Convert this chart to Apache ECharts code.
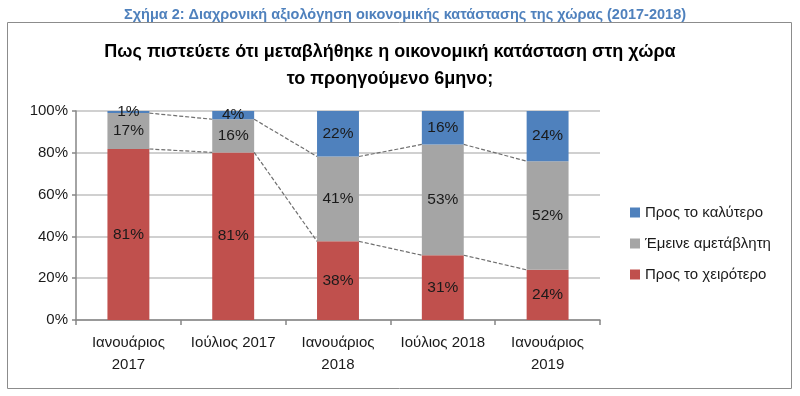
<!DOCTYPE html>
<html>
<head>
<meta charset="utf-8">
<script src="https://cdn.jsdelivr.net/npm/echarts@6/dist/echarts.min.js"></script>
<style>
  html, body { margin: 0; padding: 0; background: #fff; }
  #chart { width: 800px; height: 396px; }
</style>
</head>
<body>
<div id="chart"></div>
<script>
var categories = ['Ιανουάριος\n2017', 'Ιούλιος 2017', 'Ιανουάριος\n2018', 'Ιούλιος 2018', 'Ιανουάριος\n2019'];
var worse = [81, 81, 38, 31, 24];
var same = [17, 16, 41, 53, 52];
var better = [1, 4, 22, 16, 24];
var yTicks = ['0%', '20%', '40%', '60%', '80%', '100%'];

var FONT = "'Liberation Sans', Arial, sans-serif";
var BAR_RATIO = 0.4;

// 100% stacked: each column is shown as share of its own total
var totals = worse.map(function (v, i) { return v + same[i] + better[i]; });
function share(arr) {
    return arr.map(function (v, i) { return v / totals[i] * 100; });
}
var worseShare = share(worse);
var sameShare = share(same);
var betterShare = share(better);

// series lines between the bars, at the top of the red and grey parts
var connectors = [];
for (var i = 0; i < categories.length - 1; i++) {
    connectors.push([i, worseShare[i], worseShare[i + 1]]);
    connectors.push([i, worseShare[i] + sameShare[i], worseShare[i + 1] + sameShare[i + 1]]);
}

function barLabel(raw) {
    return {
        show: true,
        position: 'inside',
        fontFamily: FONT,
        fontSize: 15.5,
        color: '#1a1a1a',
        formatter: function (p) { return raw[p.dataIndex] + '%'; }
    };
}

var chart = echarts.init(document.getElementById('chart'));
chart.setOption({
    animation: false,
    textStyle: {fontFamily: FONT},
    title: [
        {
            text: 'Σχήμα 2: Διαχρονική αξιολόγηση οικονομικής κατάστασης της χώρας (2017-2018)',
            left: 400,
            textAlign: 'center',
            top: 2,
            textStyle: {fontFamily: FONT, fontSize: 14.5, fontWeight: 'bold', color: '#4f81bd'}
        },
        {
            text: 'Πως πιστεύετε ότι μεταβλήθηκε η οικονομική κατάσταση στη χώρα\nτο προηγούμενο 6μηνο;',
            left: 385,
            textAlign: 'center',
            top: 34,
            textStyle: {fontFamily: FONT, fontSize: 18, fontWeight: 'bold', color: '#000', lineHeight: 27}
        }
    ],
    graphic: [{
        type: 'rect',
        shape: {x: 7.5, y: 22.5, width: 784, height: 366},
        style: {fill: 'none', stroke: '#8c8c8c', lineWidth: 1},
        silent: true,
        z: -1
    }],
    legend: {
        orient: 'vertical',
        left: 625,
        top: 200,
        itemWidth: 10,
        itemHeight: 10,
        itemGap: 16,
        icon: 'rect',
        textStyle: {fontFamily: FONT, fontSize: 15, color: '#1a1a1a'},
        data: ['Προς το καλύτερο', 'Έμεινε αμετάβλητη', 'Προς το χειρότερο']
    },
    grid: {left: 76, right: 200, top: 111, bottom: 76},
    xAxis: {
        type: 'category',
        data: categories,
        axisLine: {lineStyle: {color: '#868686', width: 1.5}},
        axisTick: {show: true, length: 5, lineStyle: {color: '#868686', width: 1.5}},
        axisLabel: {interval: 0, fontFamily: FONT, fontSize: 15, color: '#1a1a1a', margin: 12, lineHeight: 22}
    },
    yAxis: {
        type: 'value',
        min: 0,
        max: 100,
        interval: 20,
        axisLine: {show: true, lineStyle: {color: '#868686', width: 1.5}},
        axisTick: {show: true, length: 4, lineStyle: {color: '#868686', width: 1.5}},
        splitLine: {lineStyle: {color: '#c0c0c0', width: 1.5}},
        axisLabel: {
            fontFamily: FONT,
            fontSize: 15,
            color: '#1a1a1a',
            margin: 8,
            formatter: function (v) { return yTicks[Math.round(v / 20)]; }
        }
    },
    series: [
        {
            name: 'Προς το χειρότερο',
            type: 'bar',
            stack: 'all',
            barWidth: (BAR_RATIO * 100) + '%',
            itemStyle: {color: '#c0504d'},
            label: barLabel(worse),
            data: worseShare
        },
        {
            name: 'Έμεινε αμετάβλητη',
            type: 'bar',
            stack: 'all',
            itemStyle: {color: '#a5a5a5'},
            label: barLabel(same),
            data: sameShare
        },
        {
            name: 'Προς το καλύτερο',
            type: 'bar',
            stack: 'all',
            itemStyle: {color: '#4f81bd'},
            label: barLabel(better),
            data: betterShare
        },
        {
            type: 'custom',
            silent: true,
            z: 5,
            encode: {x: 0, y: [1, 2]},
            data: connectors,
            renderItem: function (params, api) {
                var i = api.value(0);
                var a = api.coord([i, api.value(1)]);
                var b = api.coord([i + 1, api.value(2)]);
                var hw = api.size([1, 0])[0] * BAR_RATIO / 2;
                return {
                    type: 'line',
                    shape: {x1: a[0] + hw, y1: a[1], x2: b[0] - hw, y2: b[1]},
                    style: {stroke: '#6f6f6f', lineWidth: 1.2, lineDash: [4, 2]}
                };
            }
        }
    ]
});
</script>
</body>
</html>
